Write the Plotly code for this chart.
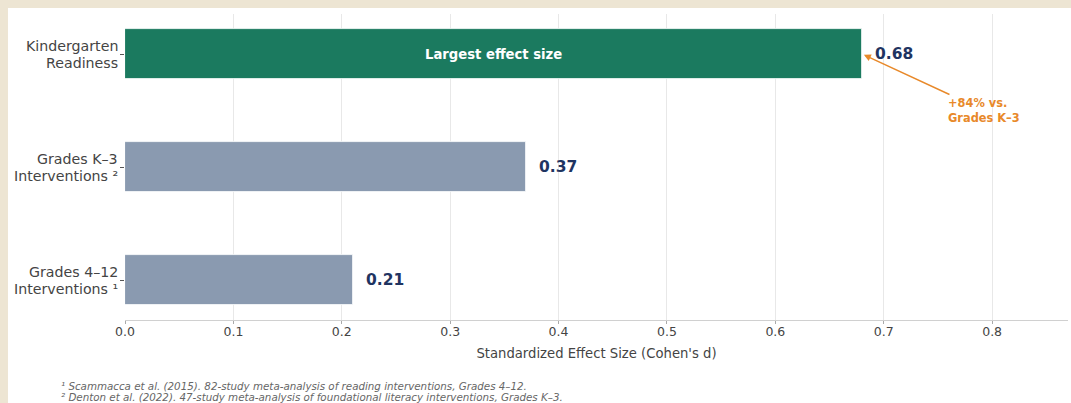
import plotly.graph_objects as go

# Effect sizes, bottom to top
categories = [
    "Grades 4–12<br>Interventions ¹",
    "Grades K–3<br>Interventions ²",
    "Kindergarten<br>Readiness",
]
effect_sizes = [0.21, 0.37, 0.68]
bar_colors = ["#8a9ab0", "#8a9ab0", "#1b7a5f"]
x_ticks = [0.0, 0.1, 0.2, 0.3, 0.4, 0.5, 0.6, 0.7, 0.8]
footnotes = [
    "¹ Scammacca et al. (2015). 82-study meta-analysis of reading interventions, Grades 4–12.",
    "² Denton et al. (2022). 47-study meta-analysis of foundational literacy interventions, Grades K–3.",
]

FONT = "DejaVu Sans"
NAVY = "#1f3461"
ORANGE = "#e8892a"
TEXT = "#444444"

fig = go.Figure()
fig.add_trace(go.Bar(
    x=effect_sizes,
    y=categories,
    orientation="h",
    width=0.45,
    marker=dict(color=bar_colors, line=dict(color="white", width=0.8)),
    hoverinfo="skip",
))

annotations = []

# category labels, one line per annotation for tighter line spacing
LINE_H = 17
for cat in categories:
    lines = cat.split("<br>")
    n = len(lines)
    for i, line in enumerate(lines):
        annotations.append(dict(
            x=-0.0074, y=cat, xref="paper", yref="y", text=line,
            showarrow=False, xanchor="right", yanchor="middle",
            xshift=1.5, yshift=(n - 1) * LINE_H / 2 - i * LINE_H,
            font=dict(family=FONT, size=14.2, color=TEXT),
        ))

# value labels just past each bar end
for cat, val in zip(categories, effect_sizes):
    annotations.append(dict(
        x=val, y=cat, xref="x", yref="y", text=f"<b>{val:.2f}</b>",
        showarrow=False, xanchor="left", yanchor="middle", xshift=11,
        font=dict(family=FONT, size=15.5, color=NAVY),
    ))

# label inside the top bar
top_cat, top_val = categories[-1], effect_sizes[-1]
annotations.append(dict(
    x=top_val / 2, y=top_cat, xref="x", yref="y",
    text="<b>Largest effect size</b>", showarrow=False,
    font=dict(family=FONT, size=13.2, color="white"),
))

# relative gain callout
gain = (effect_sizes[2] / effect_sizes[1] - 1) * 100
annotations.append(dict(
    x=top_val, y=2, xref="x", yref="y",
    ax=0.7925, ay=1.5, axref="x", ayref="y",
    text=f"<b>+{gain:.0f}% vs.<br>Grades K–3</b>", align="left",
    showarrow=True, arrowhead=2, arrowsize=1, arrowwidth=1.4,
    arrowcolor=ORANGE, standoff=2,
    font=dict(family=FONT, size=11.4, color=ORANGE),
))

# footnotes
for i, note in enumerate(footnotes):
    annotations.append(dict(
        x=-0.07, y=-0.2145 - i * 0.0375, xref="paper", yref="paper",
        text=f"<i>{note}</i>", showarrow=False,
        xanchor="left", yanchor="middle",
        font=dict(family=FONT, size=10.3, color="#666666"),
    ))

fig.update_layout(
    width=1071, height=403,
    margin=dict(l=125, r=3, t=14, b=83),
    paper_bgcolor="#ede5d3",
    plot_bgcolor="white",
    showlegend=False,
    font=dict(family=FONT, color=TEXT),
    annotations=annotations,
    shapes=[dict(
        type="rect", xref="paper", yref="paper",
        x0=-0.1241, x1=1.02, y0=-0.35, y1=1.0196,
        fillcolor="white", line=dict(width=0), layer="below",
    )],
    bargap=0,
)

fig.update_xaxes(
    range=[0, 0.87],
    tickvals=x_ticks,
    ticktext=[f"{t:.1f}" for t in x_ticks],
    tickfont=dict(size=12.5, color=TEXT),
    showgrid=True, gridcolor="#e8e8e8", gridwidth=1,
    zeroline=False,
    showline=True, linecolor="#d0d0d0", linewidth=1,
    ticks="outside", ticklen=3, tickcolor="#aaaaaa",
    ticklabelstandoff=-3,
    title=dict(text="Standardized Effect Size (Cohen's d)",
               font=dict(size=13.2, color=TEXT), standoff=10),
)
fig.update_yaxes(
    type="category",
    categoryorder="array", categoryarray=categories,
    range=[-0.354, 2.354],
    showticklabels=False,
    showgrid=False, zeroline=False, showline=False,
    ticks="outside", ticklen=4, tickcolor="#555555",
)

fig.write_html("out.html")
